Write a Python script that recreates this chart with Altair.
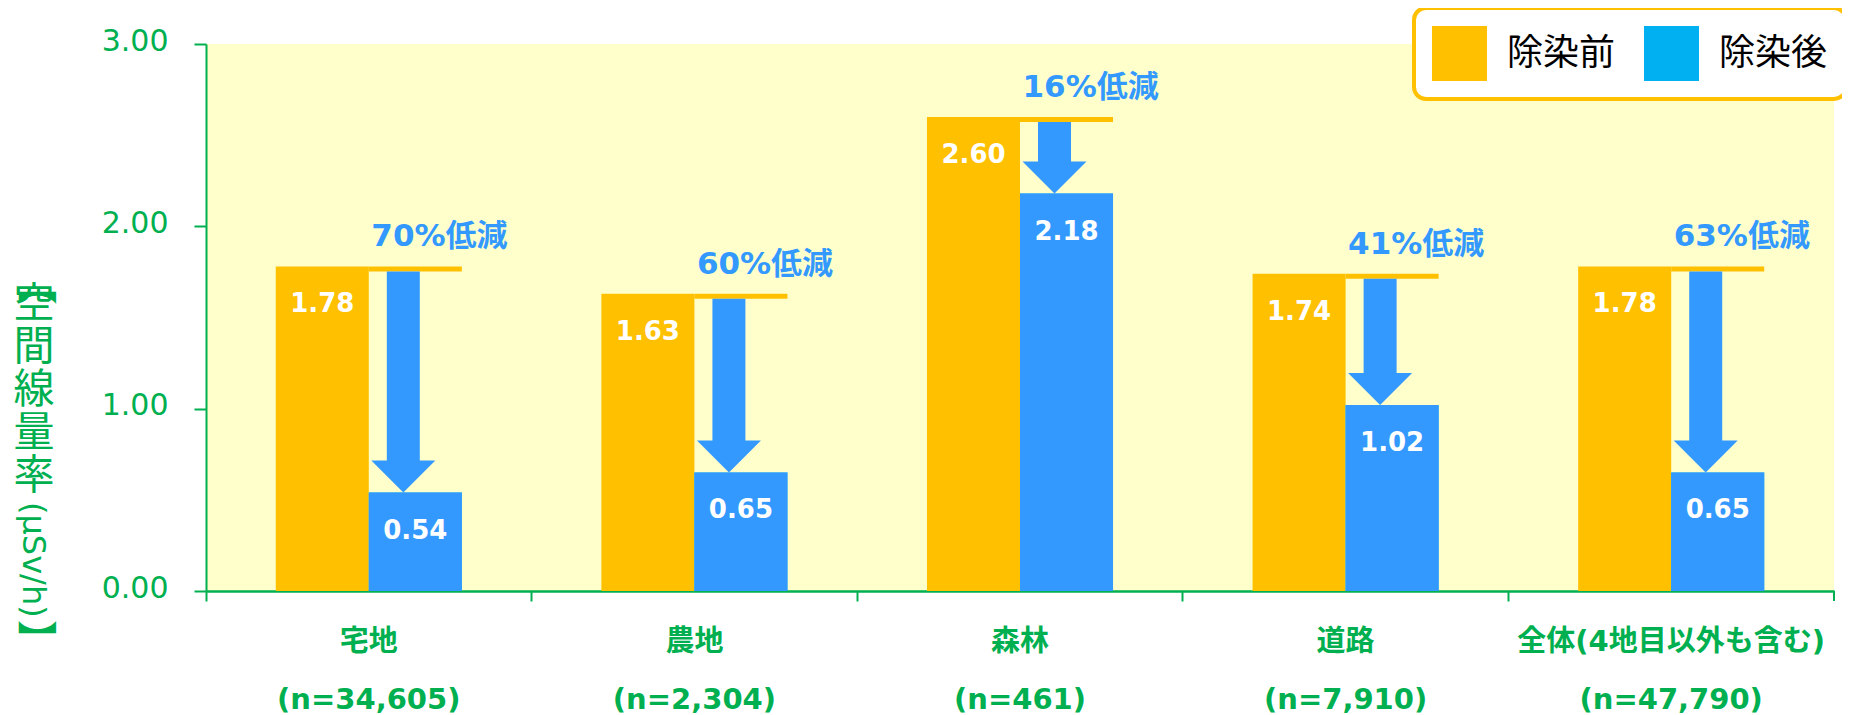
import altair as alt
import pandas as pd

categories = ["宅地", "農地", "森林", "道路", "全体(4地目以外も含む)"]
sample_sizes = ["(n=34,605)", "(n=2,304)", "(n=461)", "(n=7,910)", "(n=47,790)"]
before = [1.78, 1.63, 2.60, 1.74, 1.78]
after = [0.54, 0.65, 2.18, 1.02, 0.65]
reduction = ["70%低減", "60%低減", "16%低減", "41%低減", "63%低減"]
phases = ["除染前", "除染後"]
y_ticks = [0, 1, 2, 3]

GREEN = "#00B050"
ORANGE = "#FFC000"
BLUE = "#3399FF"
CYAN = "#00B0F0"
W, H = 1628, 547
CJK = "Noto Sans CJK JP"
MIX = "DejaVu Sans, Noto Sans CJK JP"

keys = [f"{c}|{n}" for c, n in zip(categories, sample_sizes)]
wide = pd.DataFrame({"key": keys, "before": before, "after": after,
                     "reduction": reduction, "phase": ["除染後"] * len(keys)})
long = pd.DataFrame({"key": keys * 2,
                     "phase": [phases[0]] * len(keys) + [phases[1]] * len(keys),
                     "value": before + after})
long["label"] = long["value"].map(lambda v: f"{v:.2f}")
single = pd.DataFrame({"k": [0]})

x_scale = alt.Scale(paddingInner=0, paddingOuter=0)
x_axis = alt.Axis(
    title=None, labelExpr="split(datum.label, '|')", labelAngle=0,
    bandPosition=0,
    domainColor=GREEN, domainWidth=2.5, tickColor=GREEN, tickWidth=2,
    tickSize=10, labelColor=GREEN, labelFontSize=29, labelFontWeight="bold",
    labelFont=MIX, labelLineHeight=58, labelPadding=26, labelLimit=0,
    labelOverlap=False, labelFlush=False, labelAlign="center",
)
x_enc = alt.X("key:N", sort=keys, scale=x_scale, axis=x_axis)
# the arrows sit a little left of the centre of the blue bars
x_arrow = alt.X("key:N", sort=keys, scale=x_scale, axis=x_axis, bandPosition=0.606)
xo_enc = alt.XOffset("phase:N", sort=phases,
                     scale=alt.Scale(domain=phases, paddingOuter=0.75, paddingInner=0))
y_axis = alt.Axis(values=y_ticks, format=".2f", title=None, grid=False,
                  domainColor=GREEN, domainWidth=2, tickColor=GREEN, tickWidth=2,
                  tickSize=12, labelColor=GREEN, labelFontSize=30,
                  labelFont="DejaVu Sans", labelPadding=26, labelOffset=-3)
y_scale = alt.Scale(domain=[0, 3], nice=False)

bars = alt.Chart(long).mark_bar(strokeWidth=0).encode(
    x=x_enc, xOffset=xo_enc,
    y=alt.Y("value:Q", scale=y_scale, axis=y_axis),
    color=alt.Color("phase:N", sort=phases,
                    scale=alt.Scale(domain=phases, range=[ORANGE, CYAN]),
                    legend=alt.Legend(
                        title=None, orient="none", legendX=1208, legendY=-36,
                        direction="horizontal", symbolType="square",
                        symbolSize=3025, symbolStrokeWidth=0, labelFontSize=36,
                        labelFont=CJK, labelColor="#000000", labelOffset=20,
                        columnPadding=28, padding=18, strokeColor=ORANGE,
                        cornerRadius=12, fillColor="#FFFFFF", labelLimit=0)),
)

blue_bars = alt.Chart(long).transform_filter(
    alt.datum.phase == phases[1]
).mark_bar(color=BLUE, strokeWidth=0).encode(
    x=x_enc, xOffset=xo_enc, y=alt.Y("value:Q", scale=y_scale, axis=y_axis),
)

level_line = alt.Chart(wide).mark_bar(color=ORANGE, y2Offset=5, strokeWidth=0).encode(
    x=x_enc, xOffset=xo_enc,
    y=alt.Y("before:Q", scale=y_scale, axis=y_axis), y2="before:Q",
)

shaft = alt.Chart(wide).mark_rule(color=BLUE, strokeWidth=33,
                                  yOffset=5, y2Offset=-31).encode(
    x=x_arrow,
    y=alt.Y("before:Q", scale=y_scale, axis=y_axis), y2="after:Q",
)

head = alt.Chart(wide).mark_point(shape="M-1,-1L1,-1L0,0Z", size=4096, filled=True,
                                  opacity=1, color=BLUE, strokeWidth=0).encode(
    x=x_arrow,
    y=alt.Y("after:Q", scale=y_scale, axis=y_axis),
)

value_text = alt.Chart(long).mark_text(color="white", fontSize=26, fontWeight="bold",
                                       font="DejaVu Sans", dy=38,
                                       baseline="middle").encode(
    x=x_enc, xOffset=xo_enc,
    y=alt.Y("value:Q", scale=y_scale, axis=y_axis), text="label:N",
)

red_text = alt.Chart(wide).mark_text(color=BLUE, fontSize=31, fontWeight="bold",
                                     font=MIX, align="left", dx=-44, dy=-29,
                                     baseline="middle").encode(
    x=x_enc, xOffset=xo_enc,
    y=alt.Y("before:Q", scale=y_scale, axis=y_axis), text="reduction:N",
)

# vertical y-axis title: 【空間線量率(μSv/h)】
t_open = alt.Chart(single).mark_text(text="【", font=CJK, fontSize=40, angle=90,
                                     align="left", baseline="middle",
                                     color=GREEN).encode(
    x=alt.value(-172), y=alt.value(221))
t_chars = alt.Chart(single).mark_text(text=["空", "間", "線", "量", "率"], font=CJK,
                                      fontSize=41, lineHeight=43, align="center",
                                      baseline="middle", color=GREEN).encode(
    x=alt.value(-172), y=alt.value(261))
t_unit = alt.Chart(single).mark_text(text="(μSv/h)", font="DejaVu Sans", fontSize=32,
                                     angle=90, align="left", baseline="middle",
                                     color=GREEN).encode(
    x=alt.value(-173), y=alt.value(458))
t_close = alt.Chart(single).mark_text(text="】", font=CJK, fontSize=40, angle=90,
                                      align="left", baseline="middle",
                                      color=GREEN).encode(
    x=alt.value(-172), y=alt.value(576))

end_tick = alt.Chart(single).mark_rule(color=GREEN, strokeWidth=2).encode(
    x=alt.value(W), y=alt.value(H), y2=alt.value(H + 10))

chart = alt.layer(
    bars, blue_bars, level_line, shaft, head, value_text, red_text,
    t_open, t_chars, t_unit, t_close, end_tick,
).properties(
    width=W, height=H,
    autosize=alt.AutoSizeParams(type="none"),
    padding={"left": 198, "top": 36, "right": 8, "bottom": 122},
).configure_view(
    fill="#FFFFCC", strokeWidth=0,
).configure_legend(
    strokeWidth=4,
)

chart.save("out.html", embed_options={"renderer": "svg", "actions": False})
